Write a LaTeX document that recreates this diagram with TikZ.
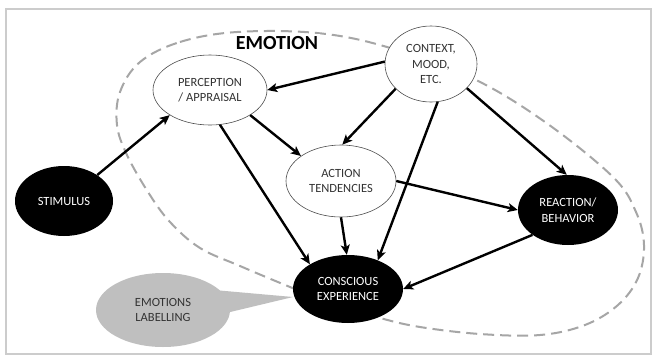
\documentclass[tikz,border=0pt]{standalone}
\usepackage{fontspec}
\setmainfont{Carlito}
\usetikzlibrary{shapes.geometric,arrows.meta}
\definecolor{framegray}{HTML}{CCCCCC}
\definecolor{dashgray}{HTML}{A6A6A6}
\definecolor{labelgray}{HTML}{BFBFBF}
\definecolor{textgray}{HTML}{333333}
\tikzset{
  basenode/.style={ellipse, inner sep=0pt, align=center, font=\fontsize{12.5}{15.5}\selectfont},
  whitenode/.style={basenode, draw=black!70, line width=0.6pt, fill=white, text=textgray},
  blacknode/.style={basenode, fill=black, text=white},
  conn/.style={line width=2.4pt, -{Stealth[length=10pt,width=9pt,inset=2.5pt]}},
}
\begin{document}
\begin{tikzpicture}[x=1pt,y=-1pt]
\useasboundingbox (0,0) rectangle (657,357);
\fill[white] (0,0) rectangle (657,357);
\draw[framegray, line width=2pt] (6,9) rectangle (651,354);
% dashed emotion boundary
\draw[dashgray, line width=2pt, dash pattern=on 11pt off 6pt]
  plot[smooth cycle, tension=0.6] coordinates {
  (140,62) (180,42) (237,32) (317,33) (387,47) (472,78) (545,122) (613,177)
  (636,212) (644,245) (638,278) (618,305) (585,325) (540,335) (480,334)
  (420,327) (380,318) (330,303) (290,287) (240,266) (200,248) (170,222)
  (148,192) (127,155) (117,125) (120,92)};
\node[fill=white, inner sep=2pt, font=\bfseries\fontsize{20}{22}\selectfont] (title) at (277,43) {EMOTION};
% labelling bubble
\node[ellipse, fill=labelgray, inner sep=0pt, minimum width=134pt, minimum height=74pt, align=center, text=textgray, font=\fontsize{12.5}{15.5}\selectfont] (lab) at (163,310) {EMOTIONS\\LABELLING};
\coordinate (tip) at (293,297);
\fill[labelgray] (214,290) -- (tip) -- (226,313) -- cycle;
% nodes
\node[blacknode, minimum width=98pt, minimum height=70pt] (stim) at (64,201) {STIMULUS};
\node[whitenode, minimum width=114pt, minimum height=70pt] (perc) at (210,90) {PERCEPTION\\/ APPRAISAL};
\node[whitenode, minimum width=92pt, minimum height=76pt] (ctx) at (431,64) {CONTEXT,\\MOOD,\\ETC.};
\node[whitenode, minimum width=110pt, minimum height=72pt] (act) at (341,181) {ACTION\\TENDENCIES};
\node[blacknode, minimum width=100pt, minimum height=70pt] (react) at (568,210) {REACTION/\\BEHAVIOR};
\node[blacknode, minimum width=110pt, minimum height=68pt] (consc) at (348,289) {CONSCIOUS\\EXPERIENCE};
% connectors
\draw[conn] (stim.38) -- (perc.212);
\draw[conn] (ctx.177) -- (perc.east);
\draw[conn] (ctx.215) -- (act.88);
\draw[conn] (ctx.280) -- (consc.44);
\draw[conn] (ctx.326) -- (react.92);
\draw[conn] (perc.328) -- (act.148);
\draw[conn] (perc.286) -- (consc.147);
\draw[conn] (act.270) -- (consc.92);
\draw[conn] (act.east) -- (react.west);
\draw[conn] (react.215) -- (consc.east);
\end{tikzpicture}
\end{document}
